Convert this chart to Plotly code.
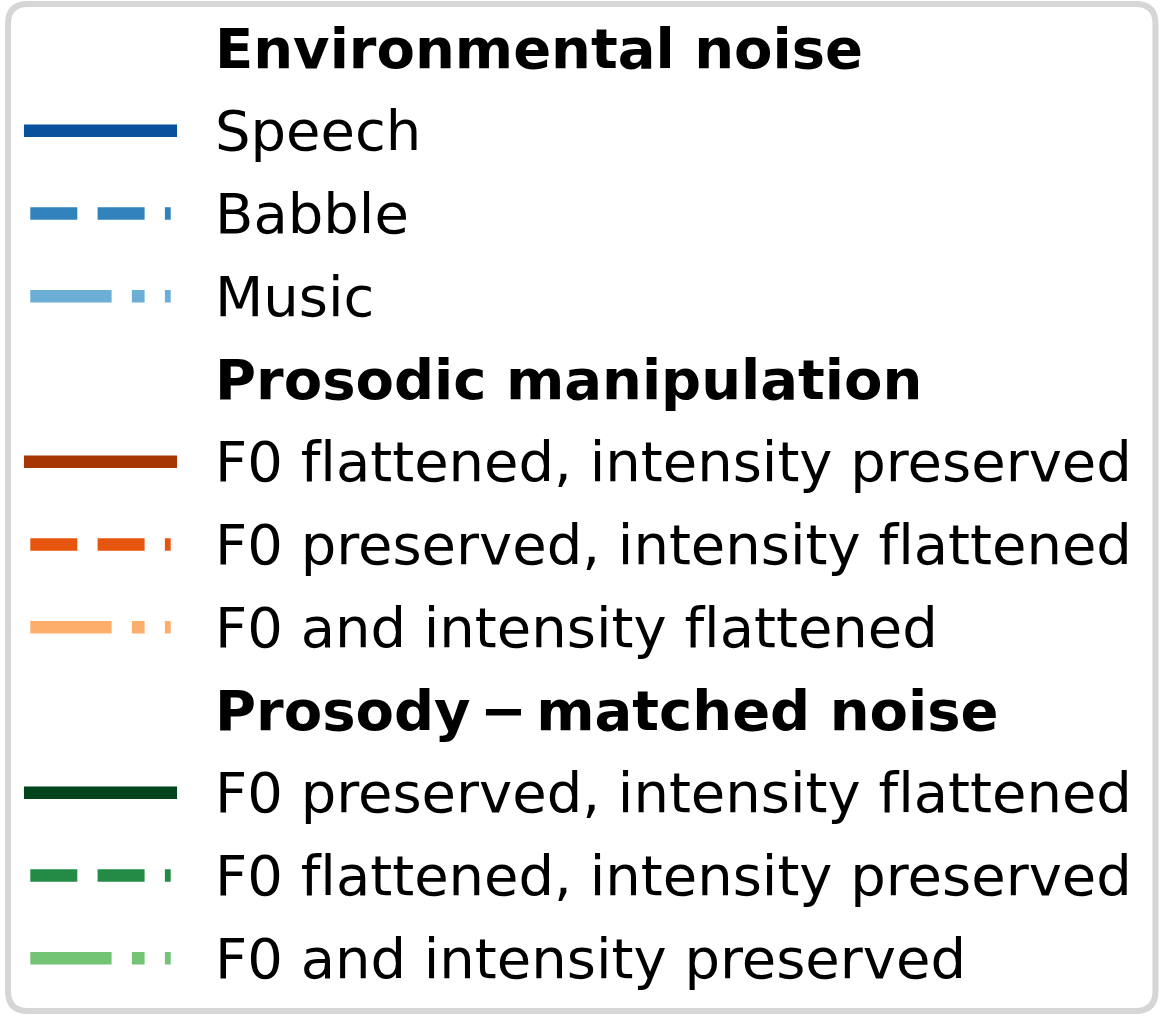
import plotly.graph_objects as go

# legend content, top to bottom
group_titles = ["Environmental noise", "Prosodic manipulation", "Prosody\u2006\u2212\u2006matched noise"]
env_labels = ["Speech", "Babble", "Music"]
pros_labels = ["F0 flattened, intensity preserved", "F0 preserved, intensity flattened",
               "F0 and intensity flattened"]
match_labels = ["F0 preserved, intensity flattened", "F0 flattened, intensity preserved",
                "F0 and intensity preserved"]
env_colors = ["#08519c", "#3182bd", "#6baed6"]
pros_colors = ["#a63603", "#e6550d", "#fdae6b"]
match_colors = ["#00441b", "#238b45", "#74c476"]
line_styles = ["solid", "dashed", "dashdot"]

W, H = 1164, 1021
LW = 12.7
ROW0, ROW_STEP = 48, 82.75
X0, X1 = 30.3, 170.7
TEXT_X = 213
FONT = "DejaVu Sans"

dash_map = {
    "solid": "solid",
    "dashed": f"{3.7 * LW:.1f}px,{1.6 * LW:.1f}px",
    "dashdot": f"{6.4 * LW:.1f}px,{1.6 * LW:.1f}px,{1.0 * LW:.1f}px,{1.6 * LW:.1f}px",
}


def no_lig(s):
    # matplotlib does not use the "fl" ligature
    return s.replace("fl", "f\u200cl")


fig = go.Figure()
annotations = []
row = 0
for title, labels, colors in zip(group_titles,
                                 [env_labels, pros_labels, match_labels],
                                 [env_colors, pros_colors, match_colors]):
    y = ROW0 + row * ROW_STEP
    annotations.append(dict(x=TEXT_X, y=y, text=f"<b>{title}</b>", showarrow=False,
                            xanchor="left", yanchor="middle",
                            font=dict(family=FONT, size=56, color="black")))
    row += 1
    for lab, col, st in zip(labels, colors, line_styles):
        y = ROW0 + row * ROW_STEP
        # solid lines in matplotlib get projecting caps
        xs = [X0 - LW / 2, X1 + LW / 2] if st == "solid" else [X0, X1]
        fig.add_trace(go.Scatter(x=xs, y=[y, y], mode="lines", showlegend=False,
                                 line=dict(color=col, width=LW, dash=dash_map[st]),
                                 hoverinfo="skip"))
        annotations.append(dict(x=TEXT_X, y=y, text=no_lig(lab), showarrow=False,
                                xanchor="left", yanchor="middle",
                                font=dict(family=FONT, size=56, color="black")))
        row += 1

# rounded frame
l, r, t, b, rad = 8, 1155.5, 4, 1011, 20
frame = (f"M {l + rad},{t} L {r - rad},{t} Q {r},{t} {r},{t + rad} "
         f"L {r},{b - rad} Q {r},{b} {r - rad},{b} L {l + rad},{b} "
         f"Q {l},{b} {l},{b - rad} L {l},{t + rad} Q {l},{t} {l + rad},{t} Z")

fig.update_layout(
    width=W, height=H,
    margin=dict(l=0, r=0, t=0, b=0),
    paper_bgcolor="white", plot_bgcolor="white",
    xaxis=dict(range=[0, W], visible=False, fixedrange=True),
    yaxis=dict(range=[H, 0], visible=False, fixedrange=True),
    annotations=annotations,
    shapes=[dict(type="path", path=frame, xref="x", yref="y",
                 line=dict(color="#d6d6d6", width=6), layer="below")],
)

fig.write_html("out.html", config={"displayModeBar": False},
               post_script="document.body.style.margin='0px';")
